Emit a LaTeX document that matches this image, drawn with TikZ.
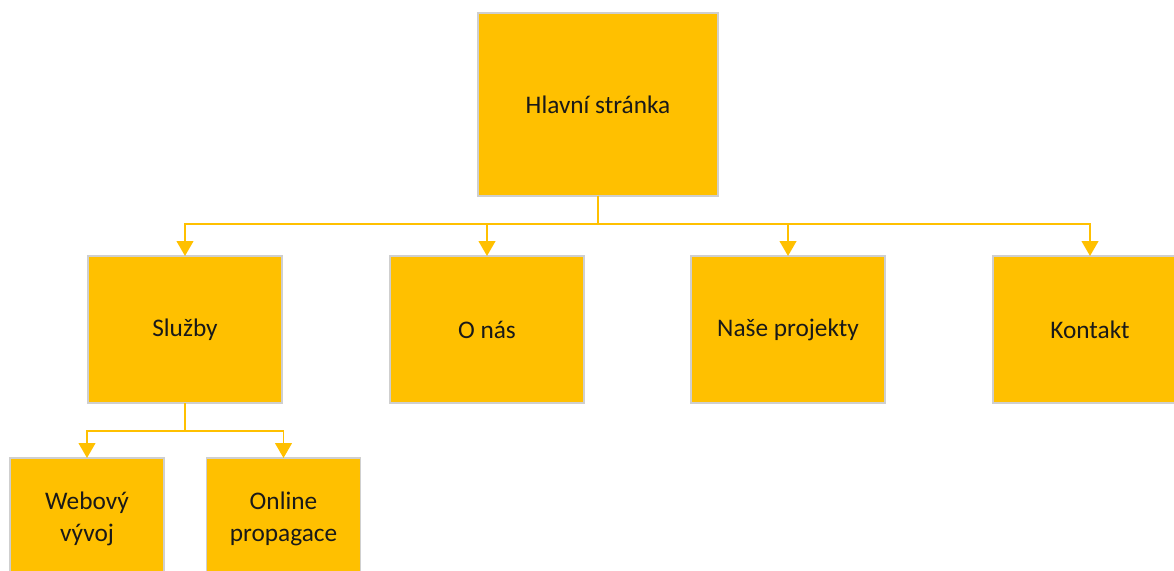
\documentclass[tikz,border=0pt]{standalone}
\usepackage{fontspec}
\setmainfont{Carlito}
\usetikzlibrary{arrows.meta}
\definecolor{zluta}{HTML}{FFC000}
\definecolor{okraj}{HTML}{CFCFCF}
\tikzset{
  blok/.style={draw=okraj,fill=zluta,line width=0.6pt,inner sep=0pt,outer sep=0pt,
    minimum width=3.88cm,minimum height=2.94cm,align=center,
    font=\fontsize{14.4}{18}\selectfont,text=black!90},
  spoj/.style={draw=zluta,line width=1.1pt,-{Triangle[length=8.5pt,width=9.5pt]}}
}
\begin{document}
\begin{tikzpicture}
		\useasboundingbox (0,0) rectangle (23.48,11.4);
		%Uzly
		\node [blok,minimum width=4.8cm,minimum height=3.66cm] (hlavni) at (11.96,9.31) {Hlavní stránka};
		\node [blok] (sluzby) at (3.70,4.81) {Služby};
		\node [blok] (onas) at (9.74,4.81) {O nás};
		\node [blok] (projekty) at (15.76,4.81) {Naše projekty};
		\node [blok] (kontakt) at (21.80,4.81) {Kontakt};
		\node [blok,minimum width=3.08cm,minimum height=2.44cm] (webovy) at (1.74,1.02) {Webový\\vývoj};
		\node [blok,minimum width=3.08cm,minimum height=2.44cm] (propagace) at (5.67,1.02) {Online\\propagace};

		%Spojnice
		\draw[spoj] (hlavni.south)--++(0,-0.56)-|(sluzby.north);
		\draw[spoj] (hlavni.south)--++(0,-0.56)-|(onas.north);
		\draw[spoj] (hlavni.south)--++(0,-0.56)-|(projekty.north);
		\draw[spoj] (hlavni.south)--++(0,-0.56)-|(kontakt.north);
		\draw[spoj] (sluzby.south)--++(0,-0.56)-|(webovy.north);
		\draw[spoj] (sluzby.south)--++(0,-0.56)-|(propagace.north);
\end{tikzpicture}
\end{document}
